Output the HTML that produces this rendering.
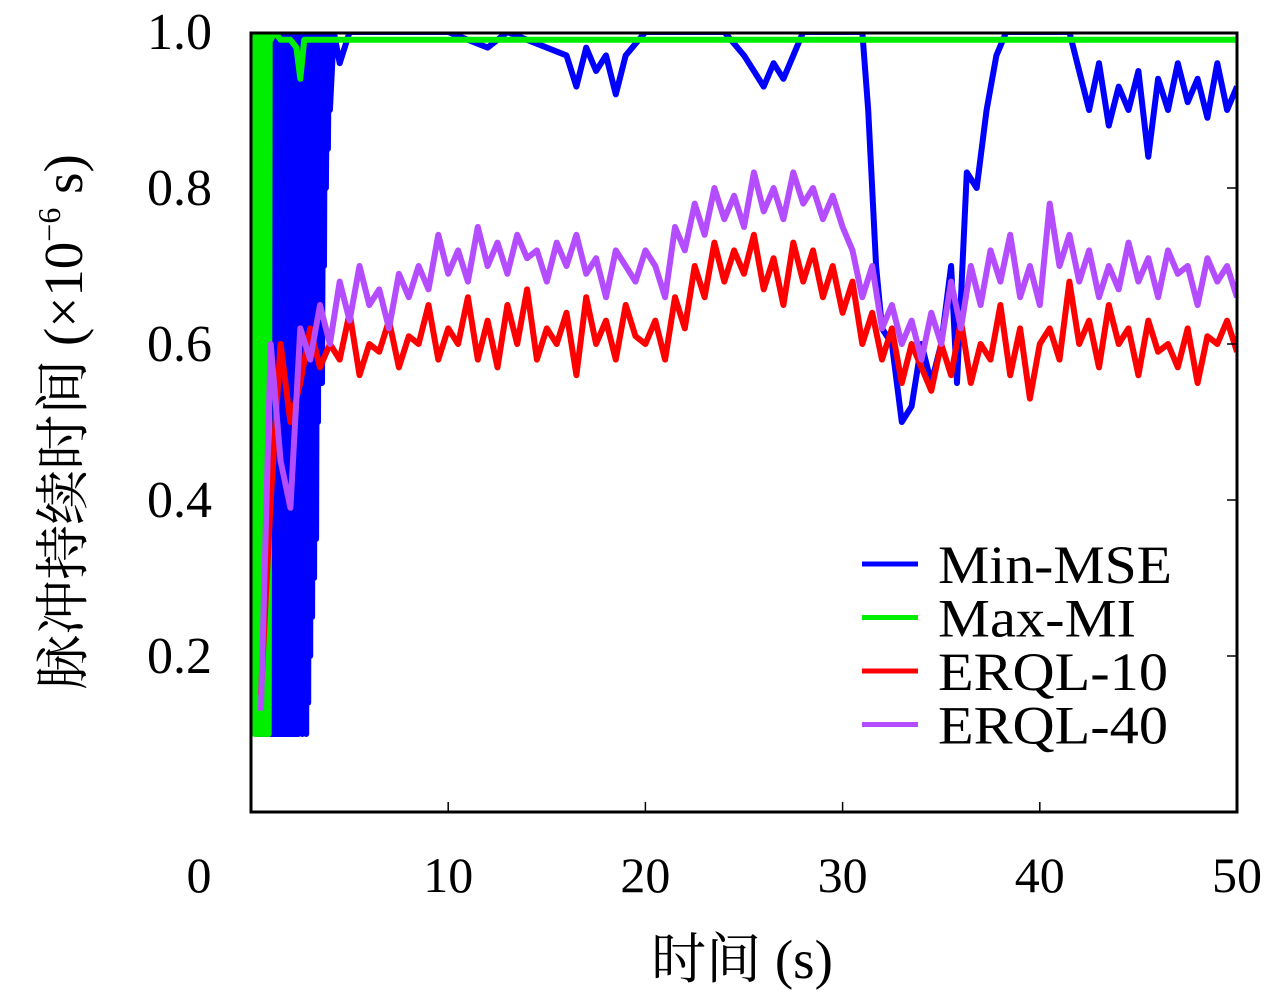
<!DOCTYPE html>
<html><head><meta charset="utf-8"><style>
body{margin:0;background:#fff;}
svg text{font-family:"Liberation Serif","Noto Serif CJK SC",serif;fill:#000;}
</style></head><body>
<svg id="chart" width="1280" height="994" viewBox="0 0 1280 994" xmlns="http://www.w3.org/2000/svg">
<defs><clipPath id="plotclip"><rect x="251" y="33" width="986" height="779"/></clipPath></defs>
<g id="series" clip-path="url(#plotclip)"></g>
<rect x="251" y="33" width="986" height="779" fill="none" stroke="#000" stroke-width="3"/>
<g id="ticks"></g>
<text x="742" y="978" font-size="55" text-anchor="middle">时间 (s)</text>
<text transform="translate(82,422) rotate(-90)" font-size="55" text-anchor="middle">脉冲持续时间 (×10<tspan font-size="32" dy="-22">−6</tspan><tspan dy="22"> s)</tspan></text>
<g id="legend"></g>
</svg>
<script>
const xTicks=[0,10,20,30,40,50];
const yTicks=[0.2,0.4,0.6,0.8,1.0];
const seriesNames=["Min-MSE","Max-MI","ERQL-10","ERQL-40"];
const seriesColors=["#0000ff","#00ee00","#ff0000","#b44cff"];
const redV=[0.15,0.4,0.6,0.5,0.55,0.62,0.57,0.6,0.58,0.64,0.56,0.6,0.59,0.63,0.57,0.61,0.6,0.65,0.58,0.62,
0.6,0.66,0.58,0.63,0.57,0.65,0.6,0.67,0.58,0.62,0.6,0.64,0.56,0.66,0.6,0.63,0.58,0.65,0.61,0.6,
0.63,0.58,0.66,0.62,0.7,0.66,0.73,0.68,0.72,0.69,0.74,0.67,0.71,0.65,0.73,0.68,0.72,0.66,0.7,0.64,
0.68,0.6,0.64,0.58,0.62,0.55,0.6,0.57,0.54,0.6,0.56,0.63,0.55,0.6,0.58,0.65,0.56,0.62,0.53,0.6,
0.62,0.58,0.68,0.6,0.63,0.57,0.65,0.6,0.62,0.56,0.63,0.59,0.6,0.57,0.62,0.55,0.61,0.6,0.63,0.59];
const purpleV=[0.13,0.6,0.45,0.39,0.62,0.58,0.65,0.6,0.68,0.63,0.7,0.65,0.67,0.62,0.69,0.66,0.7,0.67,0.74,0.69,
0.72,0.68,0.75,0.7,0.73,0.69,0.74,0.71,0.72,0.68,0.73,0.7,0.74,0.69,0.71,0.66,0.72,0.7,0.68,0.72,
0.7,0.66,0.75,0.72,0.78,0.74,0.8,0.76,0.79,0.75,0.82,0.77,0.8,0.76,0.82,0.78,0.8,0.76,0.79,0.75,
0.72,0.66,0.7,0.62,0.65,0.6,0.63,0.58,0.64,0.6,0.68,0.62,0.7,0.65,0.72,0.68,0.74,0.66,0.7,0.65,
0.78,0.7,0.74,0.68,0.72,0.66,0.7,0.67,0.73,0.68,0.71,0.66,0.72,0.69,0.7,0.65,0.71,0.68,0.7,0.66];
const stepT=[0.5,1,1.5,2,2.5,3,3.5,4,4.5,5,5.5,6,6.5,7,7.5,8,8.5,9,9.5,10,10.5,11,11.5,12,12.5,13,13.5,14,14.5,15,15.5,16,16.5,17,17.5,18,18.5,19,19.5,20,20.5,21,21.5,22,22.5,23,23.5,24,24.5,25,25.5,26,26.5,27,27.5,28,28.5,29,29.5,30,30.5,31,31.5,32,32.5,33,33.5,34,34.5,35,35.5,36,36.5,37,37.5,38,38.5,39,39.5,40,40.5,41,41.5,42,42.5,43,43.5,44,44.5,45,45.5,46,46.5,47,47.5,48,48.5,49,49.5,50];
const greenT=[0.1,0.15,0.2,0.25,0.3,0.35,0.4,0.45,0.5,0.55,0.6,0.65,0.7,0.75,0.8,0.85,0.9,0.95,1.0,1.2,1.5,2.0,2.3,2.5,2.7,3.0,50];
const greenV=[0.1,1,0.1,1,0.1,1,0.1,1,0.1,1,0.1,1,0.1,1,0.1,1,0.1,1,0.99,1,0.99,0.99,0.98,0.94,0.99,0.99,0.99];
const blueT=[0.3,1.0,1.05,1.1,1.15,1.2,1.25,1.3,1.35,1.4,1.45,1.5,1.55,1.6,1.65,1.7,1.75,1.8,1.85,1.9,1.95,2.0,2.05,2.1,2.15,2.2,2.25,2.3,2.35,2.4,2.45,2.5,2.55,2.6,2.65,2.7,2.75,2.8,2.85,2.9,2.95,3.0,3.05,3.1,3.15,3.2,3.25,3.3,3.35,3.4,3.45,3.5,3.55,3.6,3.65,3.7,3.75,3.8,3.85,3.9,3.95,4.0,4.2,4.5,5,10,12,13,16,16.5,17,17.5,18,18.5,19,20,24,25,25.5,26,26.5,27,27.5,28,31,31.3,31.7,32,32.5,33,33.5,34,34.5,35,35.5,35.8,36.3,36.8,37.3,37.8,38.3,41.5,42,42.5,43,43.5,44,44.5,45,45.5,46,46.5,47,47.5,48,48.5,49,49.5,50];
const blueV=[0.1,0.1,1,0.1,1,0.1,1,0.1,1,0.1,1,0.1,1,0.1,1,0.1,1,0.1,1,0.1,1,0.1,1,0.1,1,0.1,1,0.1,0.95,0.1,1,0.12,1,0.1,1,0.15,1,0.1,1,0.14,1,0.2,1,0.25,0.9,0.3,1,0.35,0.8,0.5,0.95,0.6,1,0.55,0.85,0.7,1,0.8,0.97,0.85,1,0.9,1,0.96,1,1,0.98,1,0.97,0.93,0.98,0.95,0.97,0.92,0.97,1,1,0.97,0.95,0.93,0.96,0.94,0.97,1,1,0.9,0.7,0.62,0.6,0.5,0.52,0.6,0.55,0.6,0.7,0.55,0.82,0.8,0.9,0.97,1,1,0.95,0.9,0.96,0.88,0.93,0.9,0.95,0.84,0.94,0.9,0.96,0.91,0.94,0.89,0.96,0.9,0.93];

const NS="http://www.w3.org/2000/svg";
const X0=251,X1=1237,Y0=812,Y1=32;
const xs=t=>X0+(t-0)/(50-0)*(X1-X0);
const ys=v=>Y0-(v-0)/(1-0)*(Y0-Y1);
function mk(tag,attrs,parent){const e=document.createElementNS(NS,tag);for(const k in attrs)e.setAttribute(k,attrs[k]);parent.appendChild(e);return e;}
const gS=document.getElementById('series');
function drawLine(T,V,color,name){
  let d='';for(let i=0;i<T.length;i++){d+=(i?'L':'M')+xs(T[i]).toFixed(1)+','+ys(V[i]).toFixed(1);}
  const p=mk('path',{d:d,fill:'none',stroke:color,'stroke-width':6,'stroke-linejoin':'round'},gS);
  
  
}
drawLine(blueT,blueV,seriesColors[0],'min-mse-line');
drawLine(greenT,greenV,seriesColors[1],'max-mi-line');
drawLine(stepT,redV,seriesColors[2],'erql-10-line');
drawLine(stepT,purpleV,seriesColors[3],'erql-40-line');

const gT=document.getElementById('ticks');
xTicks.forEach(t=>{
  if(t>0&&t<50){const l=mk('line',{x1:xs(t),x2:xs(t),y1:Y0,y2:Y0-10,stroke:'#000','stroke-width':1.5},gT);
  }
  const tx=mk('text',{x:xs(t)-(t===0?52:0),y:892,'font-size':50,'text-anchor':'middle'},gT);
  tx.textContent=String(t);
  
  
});
yTicks.forEach(v=>{
  if(v<1){const l=mk('line',{x1:X1,x2:X1-10,y1:ys(v),y2:ys(v),stroke:'#000','stroke-width':1.5},gT);
  }
  const tx=mk('text',{x:212,y:ys(v)+17,'font-size':52,'text-anchor':'end'},gT);
  tx.textContent=v.toFixed(1);
  
  
});
const gL=document.getElementById('legend');
seriesNames.forEach((n,i)=>{
  const y=564+i*53.5;
  const l=mk('line',{x1:862,x2:918,y1:y,y2:y,stroke:seriesColors[i],'stroke-width':5},gL);
  
  
  const tx=mk('text',{x:938,y:y+19,'font-size':54,textLength:(i===0?234:i===1?198:i===2?230:230),lengthAdjust:'spacingAndGlyphs'},gL);
  tx.textContent=n;
  
  
});
</script>
</body></html>
